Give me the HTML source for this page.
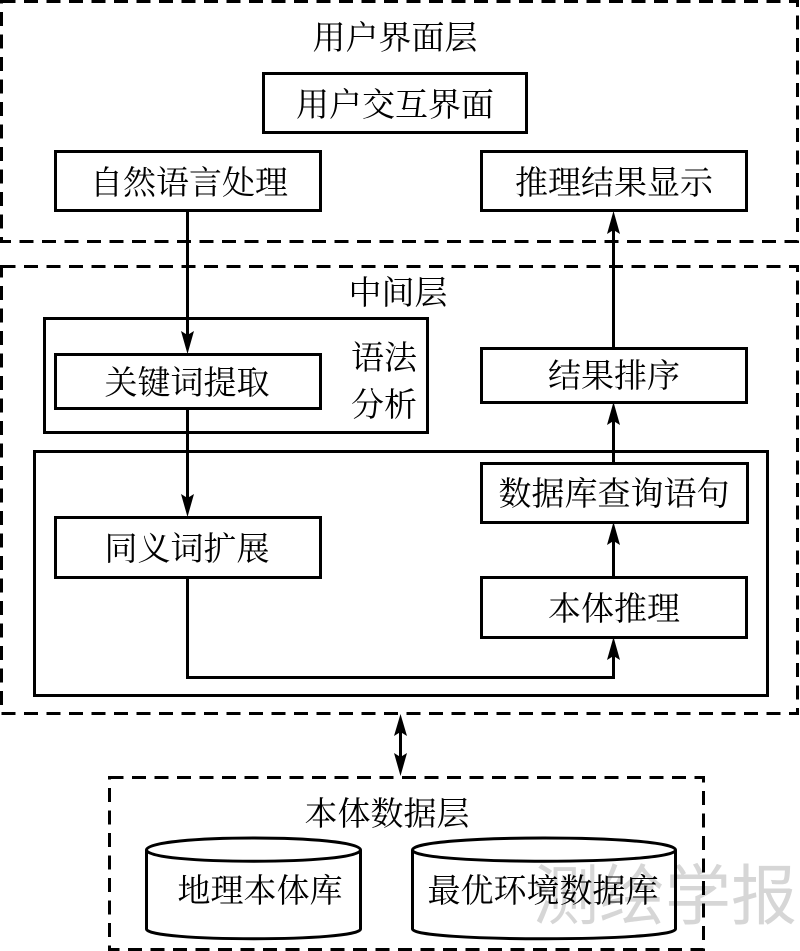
<!DOCTYPE html>
<html>
<head>
<meta charset="utf-8">
<style>
html,body{margin:0;padding:0;background:#fff}
svg{display:block}
text{font-family:"Liberation Serif","Noto Serif CJK SC",serif;font-size:33px;fill:#000;text-anchor:middle}
.b{fill:none;stroke:#000;stroke-width:3}
.d{fill:none;stroke:#000;stroke-width:3;stroke-dasharray:14 8.5}
.l{fill:none;stroke:#000;stroke-width:3}
.a{fill:#000;stroke:none}
</style>
</head>
<body>
<svg width="800" height="951" viewBox="0 0 800 951" xmlns="http://www.w3.org/2000/svg">
<rect width="800" height="951" fill="#fff"/>
<text x="665" y="919" style="font-family:'Liberation Sans','Noto Sans CJK SC',sans-serif;font-size:66px;fill:#d6d6d6;font-weight:400">测绘学报</text>

<!-- dashed layers -->
<rect class="d" x="1.5" y="1.5" width="796" height="240"/>
<rect class="d" x="1.5" y="266.5" width="796" height="447"/>
<rect class="d" x="109.5" y="777.5" width="594" height="172"/>

<!-- boxes -->
<rect class="b" x="263.5" y="73.5" width="263" height="59"/>
<rect class="b" x="55.5" y="151.5" width="265" height="59"/>
<rect class="b" x="481.5" y="151.5" width="265" height="59"/>
<rect class="b" x="44.5" y="318.5" width="383" height="114"/>
<rect class="b" x="55.5" y="354.5" width="265" height="54"/>
<rect class="b" x="34.5" y="451.5" width="733" height="244"/>
<rect class="b" x="481.5" y="348.5" width="265" height="54"/>
<rect class="b" x="481.5" y="463.5" width="266" height="59"/>
<rect class="b" x="55.5" y="517.5" width="265" height="60"/>
<rect class="b" x="481.5" y="577.5" width="265" height="60"/>

<!-- connectors -->
<line class="l" x1="187.5" y1="211" x2="187.5" y2="340"/>
<polygon class="a" points="187.5,354 181,331 187.5,335 194,331"/>
<line class="l" x1="187.5" y1="408" x2="187.5" y2="505"/>
<polygon class="a" points="187.5,517 181,494 187.5,498 194,494"/>
<path class="l" d="M187.5 577V677.5H613.5V650"/>
<polygon class="a" points="613.5,637 607,660 613.5,656 620,660"/>
<line class="l" x1="613.5" y1="577" x2="613.5" y2="535"/>
<polygon class="a" points="613.5,522 607,545 613.5,541 620,545"/>
<line class="l" x1="613.5" y1="463" x2="613.5" y2="415"/>
<polygon class="a" points="613.5,402 607,425 613.5,421 620,425"/>
<line class="l" x1="613.5" y1="348" x2="613.5" y2="224"/>
<polygon class="a" points="613.5,211 607,234 613.5,230 620,234"/>
<line class="l" x1="400.5" y1="725" x2="400.5" y2="765"/>
<polygon class="a" points="400.5,714 394,736 400.5,732 407,736"/>
<polygon class="a" points="400.5,776 394,753 400.5,757 407,753"/>

<!-- cylinders -->
<path class="b" d="M146.5 850C146.5 834 360.5 834 360.5 850V929C360.5 942 146.5 942 146.5 929Z"/>
<path class="b" d="M146.5 850C146.5 865 360.5 865 360.5 850"/>
<path class="b" d="M412.5 850C412.5 834 675.5 834 675.5 850V929C675.5 942 412.5 942 412.5 929Z"/>
<path class="b" d="M412.5 850C412.5 865 675.5 865 675.5 850"/>

<!-- labels -->
<text x="395" y="49">用户界面层</text>
<text x="395" y="116">用户交互界面</text>
<text x="189" y="194">自然语言处理</text>
<text x="614" y="194">推理结果显示</text>
<text x="398" y="304">中间层</text>
<text x="187" y="394">关键词提取</text>
<text x="384" y="369">语法</text>
<text x="384" y="416">分析</text>
<text x="614" y="387">结果排序</text>
<text x="614" y="505">数据库查询语句</text>
<text x="187" y="560">同义词扩展</text>
<text x="614" y="620">本体推理</text>
<text x="387" y="825">本体数据层</text>
<text x="260" y="902">地理本体库</text>
<text x="543" y="902">最优环境数据库</text>
</svg>
</body>
</html>
